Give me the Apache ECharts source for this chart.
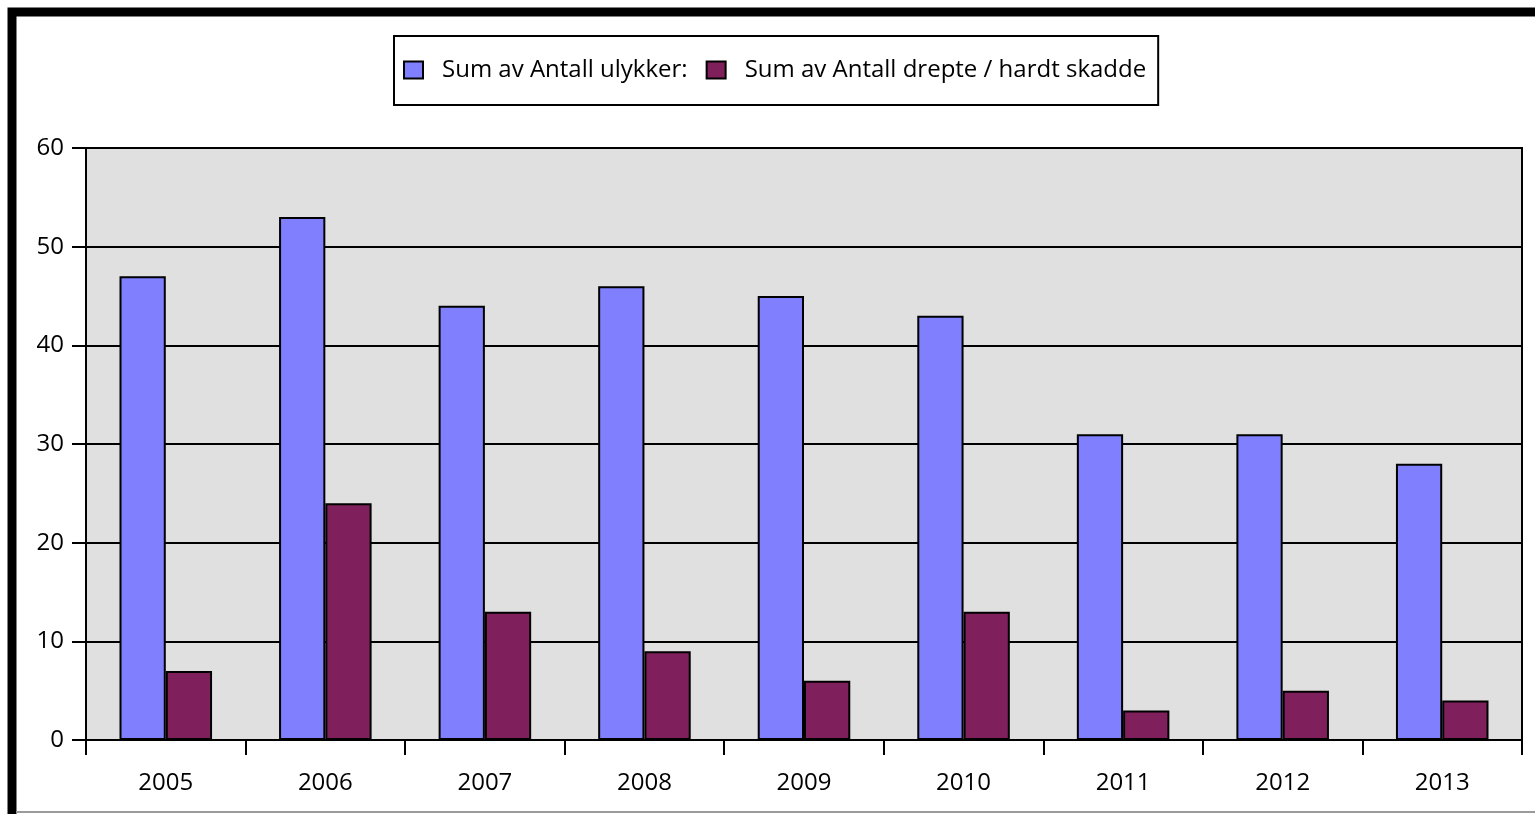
<!DOCTYPE html>
<html><head><meta charset="utf-8">
<script src="https://cdn.jsdelivr.net/npm/echarts@6/dist/echarts.min.js"></script>
<style>html,body{margin:0;padding:0;background:#fff}#c{width:1535px;height:814px}</style>
</head><body><div id="c"></div>
<script>
const categories = ['2005','2006','2007','2008','2009','2010','2011','2012','2013'];
const ulykker = [47,53,44,46,45,43,31,31,28];
const drepte = [7,24,13,9,6,13,3,5,4];
const seriesNames = ['Sum av Antall ulykker:', 'Sum av Antall drepte / hardt skadde'];
const yTicks = {min:0, max:60, interval:10};

const FONT = 'Open Sans';
const chart = echarts.init(document.getElementById('c'), null, {renderer:'canvas'});
chart.setOption({
  animation:false,
  backgroundColor:'#fff',
  graphic:[
    {type:'rect', z:100, silent:true, shape:{x:12, y:12, width:1600, height:1000}, style:{fill:null, stroke:'#000', lineWidth:9}},
    {type:'line', z:100, silent:true, shape:{x1:16, y1:812, x2:1535, y2:812}, style:{stroke:'#9a9a9a', lineWidth:2}}
  ],
  legend:{
    left:394, top:36,
    itemWidth:19, itemHeight:17, itemGap:18,
    borderColor:'#000', borderWidth:2,
    padding:[22,12,23,9],
    icon:'rect',
    itemStyle:{borderColor:'#000', borderWidth:2},
    textStyle:{fontFamily:FONT, fontSize:24, color:'#000', padding:[0,0,0,14], lineHeight:20}
  },
  grid:{left:86, top:148, width:1436, height:592, show:true, backgroundColor:'#e0e0e0', borderColor:'#000', borderWidth:2, containLabel:false},
  xAxis:{
    type:'category', data:categories,
    axisLine:{lineStyle:{color:'#000', width:2}},
    axisTick:{show:true, length:15, lineStyle:{color:'#000', width:2}},
    axisLabel:{fontFamily:FONT, fontSize:24, color:'#000', margin:31},
    splitLine:{show:false}
  },
  yAxis:{
    type:'value', min:yTicks.min, max:yTicks.max, interval:yTicks.interval,
    axisLine:{show:true, lineStyle:{color:'#000', width:2}},
    axisTick:{show:true, length:14, lineStyle:{color:'#000', width:2}},
    axisLabel:{fontFamily:FONT, fontSize:24, color:'#000', margin:22},
    splitLine:{show:true, lineStyle:{color:'#000', width:2}}
  },
  series:[
    {name:seriesNames[0], type:'bar', data:ulykker, barGap:'0%', barCategoryGap:'42%',
     itemStyle:{color:'#8080ff', borderColor:'#000', borderWidth:2}},
    {name:seriesNames[1], type:'bar', data:drepte, barGap:'0%', barCategoryGap:'42%',
     itemStyle:{color:'#7f1f5c', borderColor:'#000', borderWidth:2}}
  ]
});
</script></body></html>
